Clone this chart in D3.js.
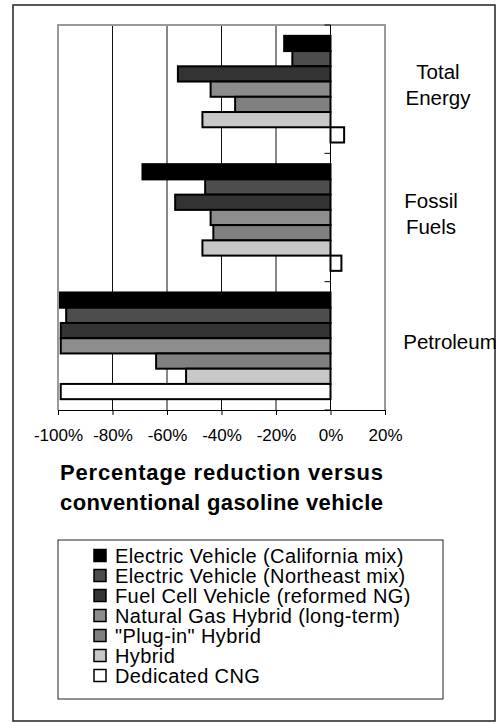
<!DOCTYPE html>
<html>
<head>
<meta charset="utf-8">
<script src="https://cdn.jsdelivr.net/npm/d3@7"></script>
<style>
    body { margin: 0; background: #fff; }
    svg { font-family: "Liberation Sans", Arial, sans-serif; }
</style>
</head>
<body>
<div id="chart"></div>
<script>
// categories (top to bottom) and series, values in % change vs gasoline vehicle
var categories = ['Total Energy', 'Fossil Fuels', 'Petroleum'];
var seriesNames = [
    'Electric Vehicle (California mix)',
    'Electric Vehicle (Northeast mix)',
    'Fuel Cell Vehicle (reformed NG)',
    'Natural Gas Hybrid (long-term)',
    '"Plug-in" Hybrid',
    'Hybrid',
    'Dedicated CNG'
];
var evCalifornia = [-17, -69, -100];
var evNortheast = [-14, -46, -97];
var fuelCell = [-56, -57, -99];
var ngHybrid = [-44, -44, -99];
var plugInHybrid = [-35, -43, -64];
var hybrid = [-47, -47, -53];
var dedicatedCng = [5, 4, -99];
var tickValues = [-100, -80, -60, -40, -20, 0, 20];
var titleLines = ['Percentage reduction versus', 'conventional gasoline vehicle'];

var seriesValues = [evCalifornia, evNortheast, fuelCell, ngHybrid, plugInHybrid, hybrid, dedicatedCng];
var fills = ['#000000', '#4d4d4d', '#333333', '#8c8c8c', '#808080', '#c8c8c8', '#ffffff'];

var w = 500, h = 724;
var plot = {left: 58, right: 385, top: 25, bottom: 410};

var svg = d3.select('#chart').append('svg')
    .attr('width', w)
    .attr('height', h)
;

// outer frame
svg.append('rect')
    .attr('x', 13).attr('y', 5)
    .attr('width', 482).attr('height', 716)
    .attr('fill', 'none')
    .attr('stroke', '#222')
    .attr('stroke-width', 1.5)
;

var xscale = d3.scaleLinear()
    .domain([-100, 20])
    .range([plot.left, plot.right]);

var yscale = d3.scaleBand()
    .domain(categories)
    .range([plot.top, plot.bottom]);

var yinner = d3.scaleBand()
    .domain(d3.range(seriesNames.length))
    .range([0, yscale.bandwidth()])
    .paddingOuter(0.71);

// gridlines
svg.append('g').selectAll('line')
    .data(tickValues.filter(function (d) { return d > -100 && d < 0; }))
    .enter()
    .append('line')
    .attr('x1', function (d) { return xscale(d); })
    .attr('x2', function (d) { return xscale(d); })
    .attr('y1', plot.top)
    .attr('y2', plot.bottom)
    .attr('stroke', '#111')
    .attr('stroke-width', 1)
;

// bars
var bar_g = svg.append('g');
seriesValues.forEach(function (vals, s) {
    bar_g.append('g').selectAll('rect')
        .data(vals)
        .enter()
        .append('rect')
        .attr('x', function (d) { return xscale(Math.min(d, 0)); })
        .attr('width', function (d) { return Math.abs(xscale(d) - xscale(0)); })
        .attr('y', function (d, i) { return yscale(categories[i]) + yinner(s); })
        .attr('height', yinner.bandwidth())
        .attr('fill', fills[s])
        .attr('stroke', '#000')
        .attr('stroke-width', 2)
    ;
});

// plot border (grey)
svg.append('path')
    .attr('d', 'M' + plot.left + ',' + plot.bottom + 'V' + plot.top + 'H' + plot.right + 'V' + plot.bottom)
    .attr('fill', 'none')
    .attr('stroke', '#999')
    .attr('stroke-width', 2)
;

// category axis at zero
var zero_g = svg.append('g');
zero_g.append('line')
    .attr('x1', xscale(0)).attr('x2', xscale(0))
    .attr('y1', plot.top).attr('y2', plot.bottom)
    .attr('stroke', '#000')
;
zero_g.selectAll('.ctick')
    .data(categories.map(function (c) { return yscale(c); }).concat([plot.bottom]))
    .enter()
    .append('line')
    .attr('x1', xscale(0) - 6).attr('x2', xscale(0))
    .attr('y1', function (d) { return d; })
    .attr('y2', function (d) { return d; })
    .attr('stroke', '#000')
;

// x axis
var xAxis = d3.axisBottom(xscale)
    .tickValues(tickValues)
    .tickSize(5)
    .tickSizeOuter(0)
    .tickPadding(14)
    .tickFormat(function (d) { return d + '%'; });

var x_g = svg.append('g')
    .attr('class', 'xaxis')
    .attr('transform', 'translate(0,' + plot.bottom + ')')
    .call(xAxis)
;
x_g.select('.domain').attr('stroke', '#000');
x_g.selectAll('line').attr('stroke', '#000');
x_g.selectAll('text')
    .attr('fill', '#000')
    .attr('font-size', '17px')
    .attr('font-family', '"Liberation Sans", Arial, sans-serif')
;

// category labels on the right
var labelX = [438, 431, 450];
categories.forEach(function (c, i) {
    var words = c.split(' ');
    var cy = yscale(c) + yscale.bandwidth() / 2;
    var t = svg.append('text')
        .attr('text-anchor', 'middle')
        .attr('font-size', '20.5px')
        .attr('fill', '#000');
    words.forEach(function (wd, k) {
        t.append('tspan')
            .attr('x', labelX[i])
            .attr('y', cy + 3 + (k - (words.length - 1) / 2) * 26)
            .text(wd);
    });
});

// axis title
svg.append('g').selectAll('text')
    .data(titleLines)
    .enter()
    .append('text')
    .text(function (d) { return d; })
    .attr('x', 221.5)
    .attr('y', function (d, i) { return 480 + i * 30; })
    .attr('text-anchor', 'middle')
    .attr('font-size', '22px')
    .attr('font-weight', 'bold')
    .attr('textLength', 323)
    .attr('lengthAdjust', 'spacing')
    .attr('fill', '#000')
;

// legend
var legend_g = svg.append('g');
legend_g.append('rect')
    .attr('x', 58).attr('y', 540)
    .attr('width', 385).attr('height', 159)
    .attr('fill', '#fff')
    .attr('stroke', '#222')
    .attr('stroke-width', 1)
;
var item = legend_g.selectAll('.item')
    .data(seriesNames)
    .enter()
    .append('g')
    .attr('transform', function (d, i) { return 'translate(0,' + (562.5 + i * 20) + ')'; })
;
item.append('rect')
    .attr('x', 94).attr('y', -13)
    .attr('width', 12).attr('height', 12)
    .attr('fill', function (d, i) { return fills[i]; })
    .attr('stroke', '#000')
    .attr('stroke-width', 1.5)
;
item.append('text')
    .text(function (d) { return d; })
    .attr('x', 115)
    .attr('font-size', '20px')
    .attr('letter-spacing', '0.4px')
    .attr('fill', '#000')
;
</script>
</body>
</html>
